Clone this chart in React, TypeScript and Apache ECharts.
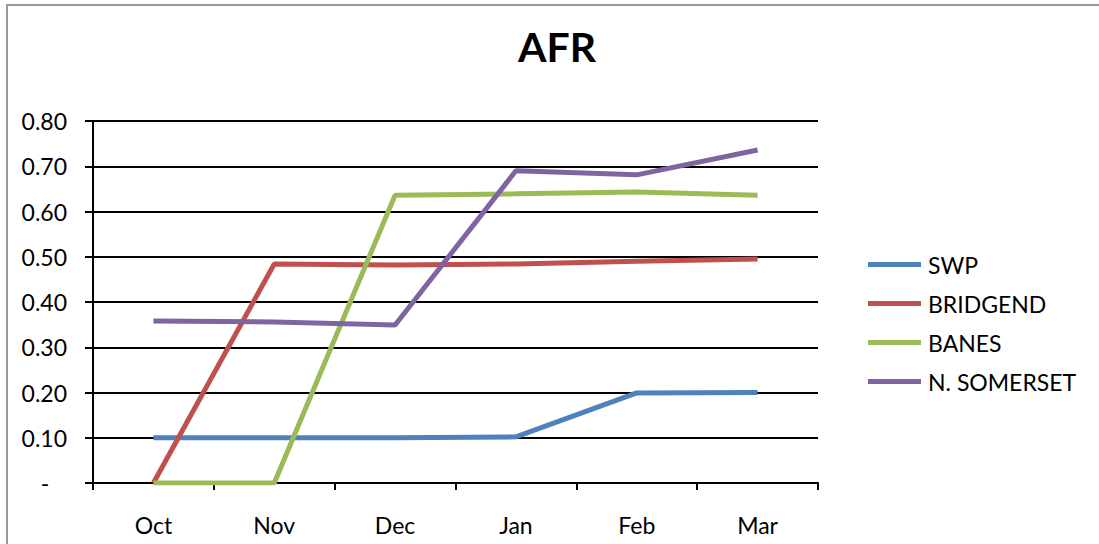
import React, { useEffect, useRef } from "react";
import * as echarts from "echarts";

const categories = ["Oct", "Nov", "Dec", "Jan", "Feb", "Mar"];
const swp = [0.1, 0.1, 0.1, 0.102, 0.199, 0.2];
const bridgend = [0, 0.484, 0.482, 0.484, 0.49, 0.495];
const banes = [0, 0, 0.636, 0.639, 0.643, 0.636];
const nSomerset = [0.358, 0.356, 0.349, 0.69, 0.681, 0.736];
const seriesNames = ["SWP", "BRIDGEND", "BANES", "N. SOMERSET"];
const colors = ["#4F81BD", "#C0504D", "#9BBB59", "#8064A2"];

const FONT = "Lato, 'Open Sans', sans-serif";

export default function App() {
  const ref = useRef<HTMLDivElement>(null);
  useEffect(() => {
    if (!ref.current) return;
    const chart = echarts.init(ref.current, undefined, { renderer: "svg" });
    const data = [swp, bridgend, banes, nSomerset];
    chart.setOption({
      animation: false,
      backgroundColor: "#fff",
      textStyle: { fontFamily: FONT },
      title: {
        text: "AFR",
        left: 552,
        top: 21,
        textAlign: "center",
        textStyle: { fontSize: 41, fontWeight: "bold", color: "#000", fontFamily: FONT },
      },
      graphic: [
        {
          type: "rect",
          shape: { x: 7, y: 5, width: 1200, height: 600 },
          style: { fill: "none", stroke: "#9a9a9a", lineWidth: 2 },
          silent: true,
        },
      ],
      legend: {
        orient: "vertical",
        left: 863,
        top: 248,
        itemWidth: 53,
        itemHeight: 5,
        itemGap: 16,
        icon: "rect",
        textStyle: { fontSize: 23, color: "#000", fontFamily: FONT, padding: [0, 0, 0, 2] },
        data: seriesNames,
      },
      grid: { left: 93, right: 281, top: 121, bottom: 61, containLabel: false },
      xAxis: {
        type: "category",
        data: categories,
        boundaryGap: true,
        axisLine: { lineStyle: { color: "#000", width: 2 } },
        axisTick: { show: true, length: 7, lineStyle: { color: "#000", width: 2 } },
        axisLabel: { color: "#000", fontSize: 23, margin: 30, fontFamily: FONT },
      },
      yAxis: {
        type: "value",
        min: 0,
        max: 0.8,
        interval: 0.1,
        axisLine: { show: true, lineStyle: { color: "#000", width: 2 } },
        axisTick: { show: true, length: 8, lineStyle: { color: "#000", width: 2 } },
        splitLine: { show: true, lineStyle: { color: "#000", width: 2 } },
        axisLabel: {
          color: "#000",
          fontSize: 23,
          margin: 26,
          fontFamily: FONT,
          formatter: (v: number) => (Math.abs(v) < 1e-9 ? "-   " : v.toFixed(2)),
        },
      },
      series: seriesNames.map((name, i) => ({
        name,
        type: "line",
        data: data[i],
        showSymbol: false,
        symbol: "none",
        itemStyle: { color: colors[i] },
        lineStyle: { color: colors[i], width: 5 },
      })),
    });
    return () => chart.dispose();
  }, []);
  return (
    <div
      ref={ref}
      style={{ position: "absolute", left: 0, top: 0, width: 1099, height: 544 }}
    />
  );
}
